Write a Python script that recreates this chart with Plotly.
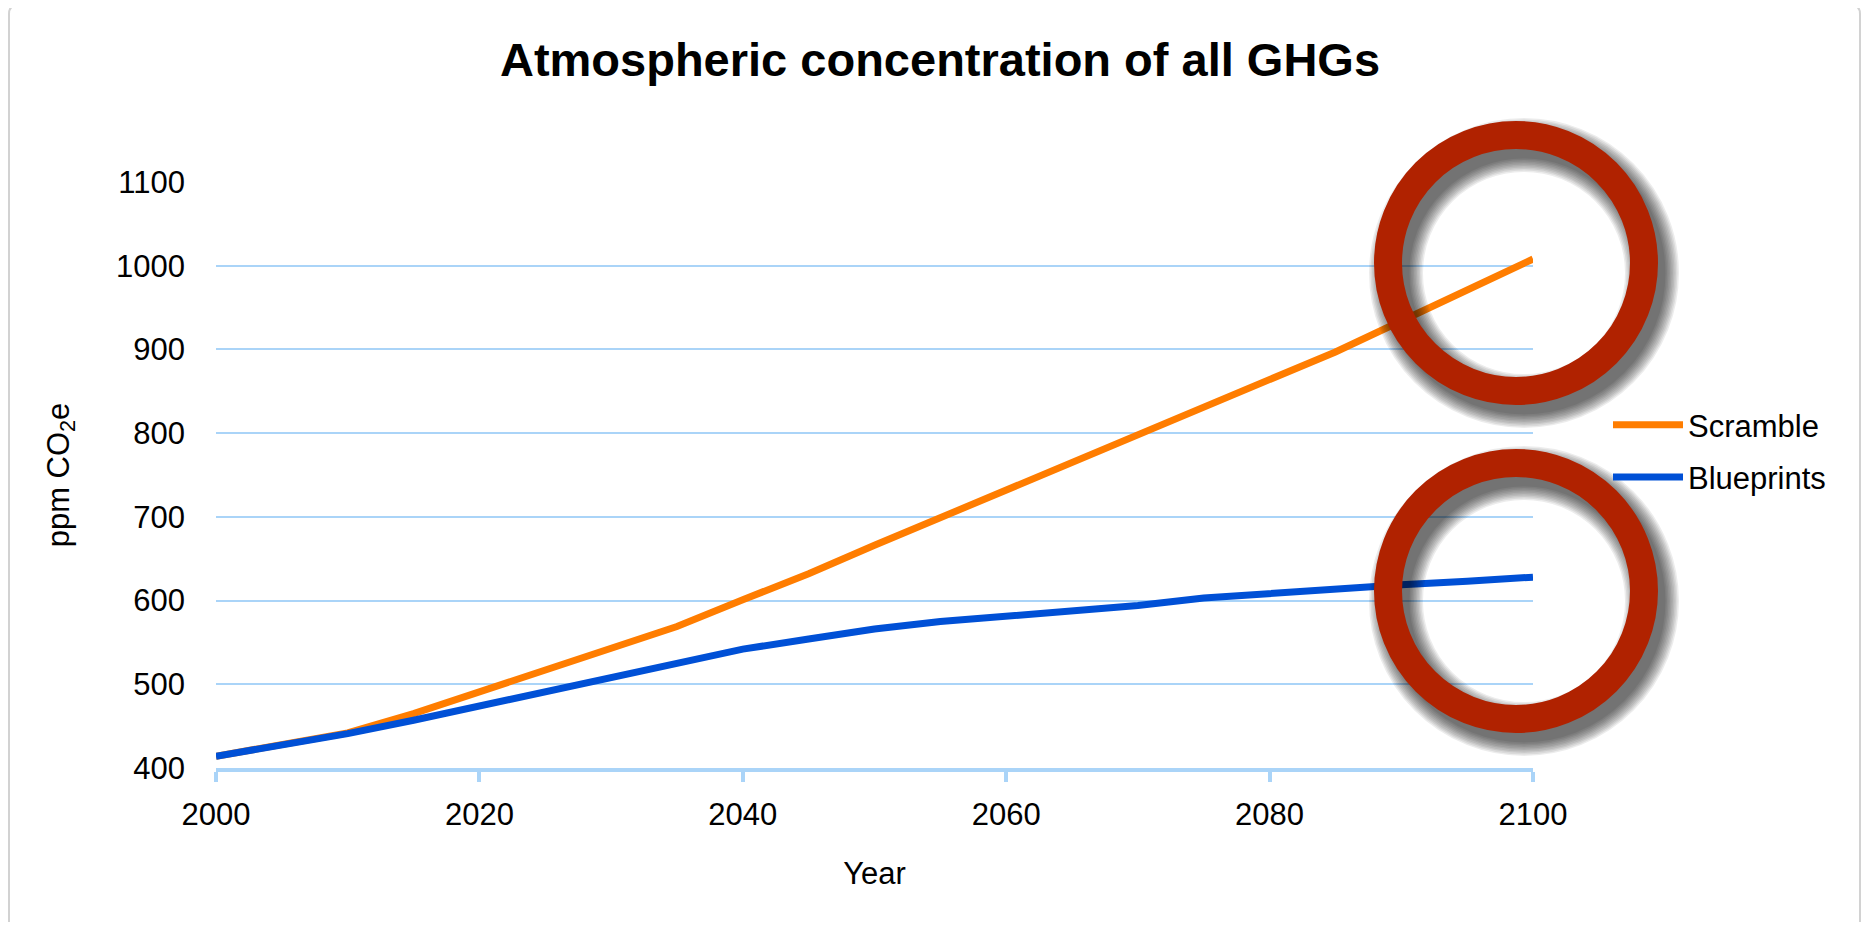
import plotly.graph_objects as go

years = [2000, 2005, 2010, 2015, 2020, 2025, 2030, 2035, 2040, 2045, 2050,
         2055, 2060, 2065, 2070, 2075, 2080, 2085, 2090, 2095, 2100]
scramble = [414, 427, 442, 465, 491, 517, 543, 569, 601, 632, 666,
            699, 733, 767, 799, 832, 865, 897, 934, 971, 1008]
blueprints = [414, 427, 441, 457, 474, 491, 508, 527, 542, 554, 566,
              575, 581, 588, 594, 603, 609, 615, 619, 623, 628]
x_ticks = [2000, 2020, 2040, 2060, 2080, 2100]
y_ticks = [400, 500, 600, 700, 800, 900, 1000, 1100]

# the page has an 8px body margin, so the figure is laid out in page pixels minus OFF
OFF = 8
W, H = 1869 - 2 * OFF, 930 - 2 * OFF
PL, PR, PT, PB = 216, 1533, 182, 768   # plot area, page pixels

GRID = "#aad4f8"
FONT = "Liberation Sans, Arial, sans-serif"


def px(x):
    return (x - PL) / (PR - PL)


def py(y):
    return (PB - y) / (PB - PT)


fig = go.Figure()
fig.add_trace(go.Scatter(x=years, y=scramble, name="Scramble", mode="lines",
                         line=dict(color="#ff7d00", width=7), legendgroup="a"))
fig.add_trace(go.Scatter(x=years, y=blueprints, name="Blueprints", mode="lines",
                         line=dict(color="#0050d6", width=7), legendgroup="b"))

shapes = []
# frame round the picture
shapes.append(dict(type="path", xref="paper", yref="paper",
                   path=f"M {px(9)},{py(940)} L {px(9)},{py(14)} Q {px(9)},{py(5)} {px(18)},{py(5)} "
                        f"L {px(1851)},{py(5)} Q {px(1860)},{py(5)} {px(1860)},{py(14)} L {px(1860)},{py(940)}",
                   line=dict(color="#d2d2d2", width=2)))

# red rings with soft drop shadow
for cx, cy in [(1516, 263), (1516, 591)]:
    r = 128
    for d in range(10, 0, -1):
        shapes.append(dict(type="circle", xref="paper", yref="paper",
                           x0=px(cx - r + 8), x1=px(cx + r + 8),
                           y0=py(cy + r + 10), y1=py(cy - r + 10),
                           line=dict(color="rgba(0,0,0,0.075)", width=24 + 3 * d)))
    shapes.append(dict(type="circle", xref="paper", yref="paper",
                       x0=px(cx - r), x1=px(cx + r), y0=py(cy + r), y1=py(cy - r),
                       line=dict(color="#b02200", width=28)))

fig.update_layout(
    width=W, height=H,
    margin=dict(l=PL - OFF, r=W - (PR - OFF), t=PT - OFF, b=H - (PB - OFF)),
    plot_bgcolor="white", paper_bgcolor="white",
    font=dict(family=FONT, size=31, color="black"),
    title=dict(text="<b>Atmospheric concentration of all GHGs</b>",
               x=(940 - OFF) / W, xanchor="center", xref="container",
               y=1 - (60 - OFF) / H, yanchor="middle", yref="container",
               font=dict(size=47, color="black")),
    xaxis=dict(range=[2000, 2100], tickvals=x_ticks, showgrid=False, zeroline=False,
               showline=True, linecolor=GRID, linewidth=4,
               ticks="outside", ticklen=10, tickwidth=4, tickcolor=GRID,
               ticklabelstandoff=6,
               title=dict(text="Year", standoff=32, font=dict(size=31))),
    yaxis=dict(range=[400, 1100], tickvals=y_ticks, showgrid=True, gridcolor=GRID,
               gridwidth=1.5, zeroline=False, showline=False, ticks="",
               ticklabelstandoff=30,
               title=dict(text="ppm CO<sub>2</sub>e", standoff=37, font=dict(size=31))),
    legend=dict(x=px(1608), xanchor="left", y=py(398), yanchor="top",
                font=dict(size=31), tracegroupgap=9, itemwidth=70,
                bgcolor="rgba(0,0,0,0)"),
    shapes=shapes,
)

fig.write_html("out.html")
